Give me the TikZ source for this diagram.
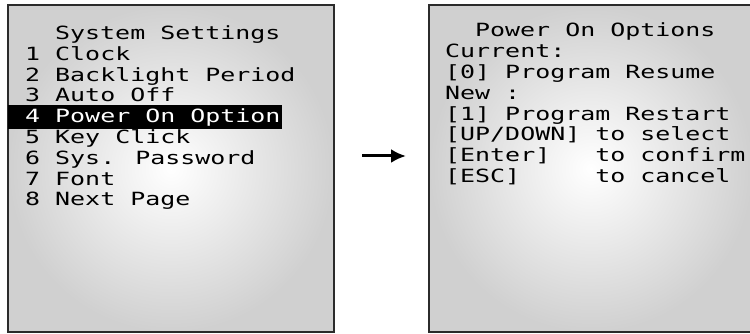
\documentclass[tikz,border=0pt]{standalone}
\usepackage{fontspec}
\newfontfamily\lcdfont{DejaVu Sans Mono}[FakeStretch=1.37]
\usetikzlibrary{arrows.meta}
\definecolor{framegray}{HTML}{2B2B2B}
\definecolor{lcdgray}{HTML}{D0D0D0}
\tikzset{
	screen/.style={draw=framegray, line width=2.5pt, shading=radial, inner color=white, outer color=lcdgray, minimum width=#1, minimum height=327pt, inner sep=0pt},
	lcdline/.style={anchor=base west, inner sep=0pt, font=\lcdfont\fontsize{18.2}{20}\selectfont},
}
\begin{document}
\begin{tikzpicture}[x=1pt, y=-1pt]
				\useasboundingbox (0,0) rectangle (750,334);
				%left screen
				\node[screen=326pt] (menu) at (171,168.5){};
				\node[lcdline] (menutitle) at (55,39.5){System Settings};
				\foreach \i/\txt in {1/Clock, 2/Backlight Period, 3/Auto Off, 5/Key Click, 6/Sys. Password, 7/Font, 8/Next Page}{
					\node[lcdline] (item\i) at (25, 39.5+20.8*\i){\i\ \txt};
				}
				%selected entry
				\node[fill=black, minimum width=274pt, minimum height=24pt, inner sep=0pt] (sel) at (145,117){};
				\node[lcdline, text=white] (item4) at (25, 122.7){4 Power On Option};
				
				%right screen
				\node[screen=324pt] (opts) at (591,168.5){};
				\node[lcdline] (optstitle) at (475,36.5){Power On Options};
				\node[lcdline] (cur) at (445,57.4){Current:};
				\node[lcdline] (curval) at (445,78.3){[0] Program Resume};
				\node[lcdline] (new) at (445,99.2){New :};
				\node[lcdline] (newval) at (445,120.1){[1] Program Restart};
				\node[lcdline] (keyup) at (445,141){[UP/DOWN] to select};
				\node[lcdline] (keyenter) at (445,161.9){[Enter]\ \ \ to confirm};
				\node[lcdline] (keyesc) at (445,182.8){[ESC]\ \ \ \ \ to cancel};
				
				%arrow
				\coordinate (arrfrom) at (362,156);
				\coordinate (arrto) at (406,156);
				\draw[-{Latex[length=15pt,width=14pt]}, line width=3pt] (arrfrom) -- (arrto);
			\end{tikzpicture}
\end{document}
